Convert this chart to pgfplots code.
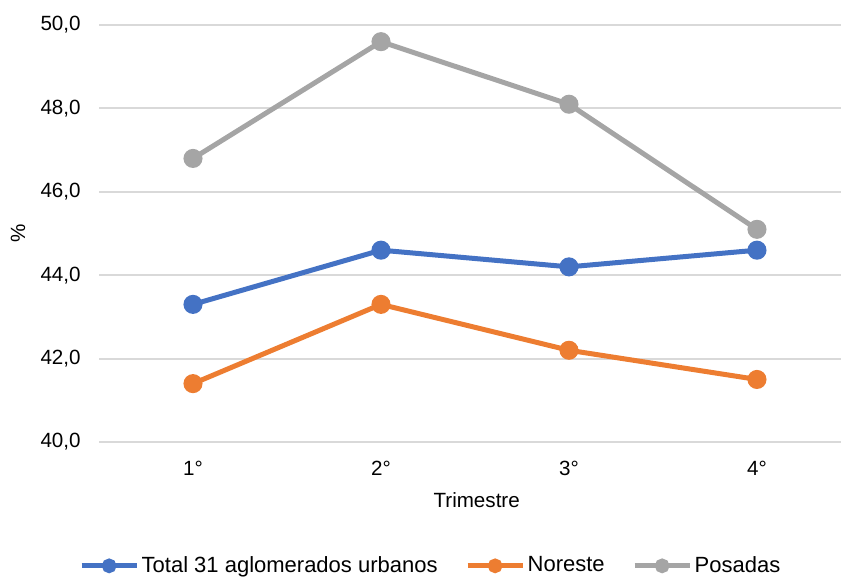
\documentclass[border=0pt]{standalone}
\usepackage{pgfplots}
\pgfplotsset{compat=1.18}
\usepackage{fontspec}
\setmainfont{Liberation Sans}
\definecolor{cblue}{HTML}{4472C4}
\definecolor{corange}{HTML}{ED7D31}
\definecolor{cgray}{HTML}{A5A5A5}
\definecolor{cgrid}{HTML}{D9D9D9}
\begin{document}
\begin{tikzpicture}
\begin{axis}[
  name=ax,
  scale only axis,
  width=371bp, height=208.5bp,
  xmin=0.5, xmax=4.447,
  ymin=40, ymax=50,
  ytick={40,42,44,46,48,50},
  xtick={1,2,3,4},
  xticklabels={1°,2°,3°,4°},
  axis line style={draw=none},
  major tick length=0pt,
  ymajorgrids,
  grid style={cgrid, line width=1bp},
  font=\fontsize{10.3bp}{12bp}\selectfont,
  /pgf/number format/.cd, fixed, fixed zerofill, precision=1, use comma, assume math mode=true,
  /pgfplots/.cd,
  yticklabel style={anchor=east, inner sep=0pt, xshift=-9bp},
  xticklabel style={anchor=center, inner sep=0pt, yshift=-13bp},
  xlabel={Trimestre},
  ylabel={\%},
  xlabel style={at={(axis description cs:0.509,-0.139)}, anchor=center},
  ylabel style={at={(axis description cs:-0.109,0.5)}, anchor=center, rotate=0},
  legend columns=-1,
  legend style={draw=none, at={(axis description cs:0.4474,-0.297)}, anchor=center,
    font=\fontsize{11bp}{13bp}\selectfont,
    /tikz/every even column/.append style={column sep=12.5bp},
    nodes={inner xsep=1.25bp, inner ysep=0pt}},
  legend image code/.code={\draw[mark repeat=2,mark phase=2,#1,mark size=2.4bp] plot coordinates {(0bp,0bp) (13.75bp,0bp) (27.5bp,0bp)};},
  every axis plot/.append style={line width=2.5bp, mark=*, mark size=3.5bp, mark options={solid, line width=0.5bp}},
]
\addplot[cblue, mark options={fill=cblue, draw=cblue}] coordinates {(1,43.3) (2,44.6) (3,44.2) (4,44.6)};
\addlegendentry{Total 31 aglomerados urbanos}
\addplot[corange, mark options={fill=corange, draw=corange}] coordinates {(1,41.4) (2,43.3) (3,42.2) (4,41.5)};
\addlegendentry{Noreste}
\addplot[cgray, mark options={fill=cgray, draw=cgray}] coordinates {(1,46.8) (2,49.6) (3,48.1) (4,45.1)};
\addlegendentry{Posadas}
\coordinate (BL) at (rel axis cs:0,0);
\coordinate (TR) at (rel axis cs:1,1);
\end{axis}
\pgfresetboundingbox
\path[use as bounding box] ([xshift=-49.5bp,yshift=-67.5bp]BL) rectangle ([yshift=12.5bp]TR);
\end{tikzpicture}
\end{document}
